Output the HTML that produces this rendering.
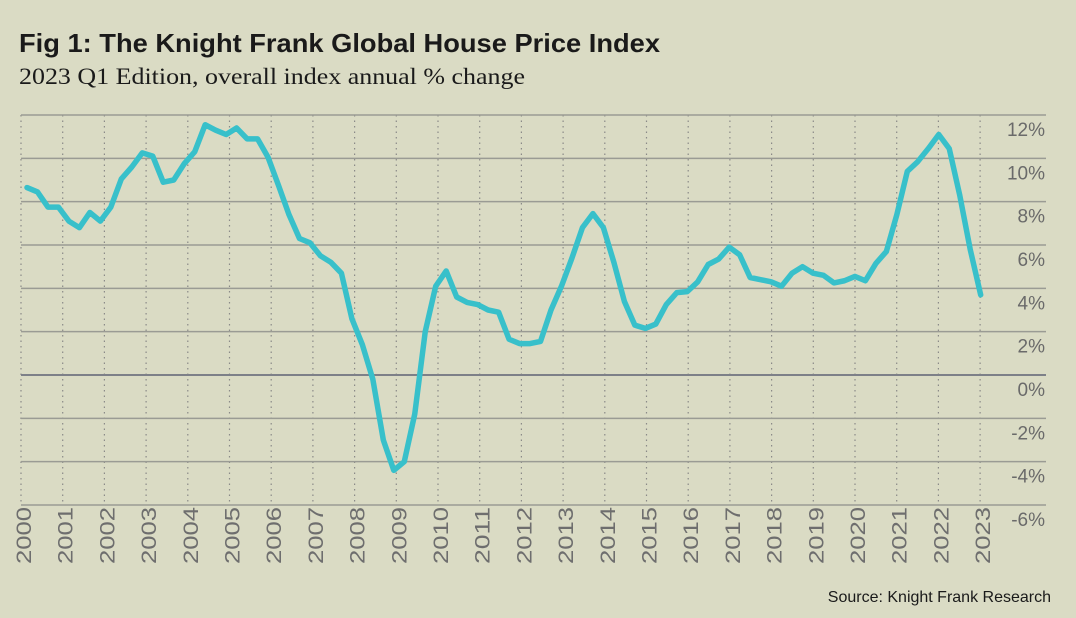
<!DOCTYPE html>
<html><head><meta charset="utf-8"><style>
body{margin:0;background:#dadbc4;}
svg{display:block;}
</style></head><body>
<svg id="chart" width="1076" height="618" viewBox="0 0 1076 618">
<rect width="1076" height="618" fill="#dadbc4"/>
<text x="19" y="52" font-family="Liberation Sans, sans-serif" font-weight="bold" font-size="26" textLength="641" lengthAdjust="spacingAndGlyphs" fill="#1a1a1a">Fig 1: The Knight Frank Global House Price Index</text>
<text x="19" y="84" font-family="Liberation Serif, serif" font-size="23" textLength="506" lengthAdjust="spacingAndGlyphs" fill="#1a1a1a">2023 Q1 Edition, overall index annual % change</text>
<text x="1051" y="602" text-anchor="end" font-family="Liberation Sans, sans-serif" font-size="16" fill="#1a1a1a">Source: Knight Frank Research</text>
<g id="grid"></g><g id="series"></g>
</svg>
<script>
const yTicks=[12,10,8,6,4,2,0,-2,-4,-6];
const years=["2000","2001","2002","2003","2004","2005","2006","2007","2008","2009","2010","2011","2012","2013","2014","2015","2016","2017","2018","2019","2020","2021","2022","2023"];
const values=[8.65,8.45,7.75,7.75,7.1,6.8,7.5,7.1,7.75,9.05,9.6,10.25,10.1,8.9,9.0,9.75,10.3,11.55,11.3,11.1,11.4,10.9,10.9,10.05,8.75,7.4,6.3,
6.1,5.5,5.2,4.7,2.6,1.4,-0.2,-3.0,-4.4,-4.0,-1.8,2.0,4.1,4.8,3.6,3.35,3.25,3.0,2.9,1.65,1.45,1.45,1.55,3.0,4.1,5.4,6.8,7.45,6.8,5.2,3.4,2.3,2.15,2.35,3.25,3.8,3.85,4.3,5.1,5.35,5.9,5.55,4.5,4.4,4.3,4.1,4.7,5.0,4.7,4.6,4.25,4.35,4.55,4.35,5.15,5.7,7.4,9.4,9.85,10.45,11.1,10.45,8.3,5.8,3.7];
const NS='http://www.w3.org/2000/svg';
const y=v=>375-(v*21.667);
const xYear=k=>21+k*41.7;
const xQ=i=>27+i*10.48;
const grid=document.getElementById('grid'),ser=document.getElementById('series');
function mk(tag,at,parent){const e=document.createElementNS(NS,tag);for(const k in at)e.setAttribute(k,at[k]);parent.appendChild(e);return e;}
years.forEach((yr,k)=>{
 const l=mk('line',{x1:xYear(k),x2:xYear(k),y1:115,y2:505,stroke:'#8a8a88','stroke-width':1.2,'stroke-dasharray':'1.5 4'},grid);
 
 
 const t=mk('text',{x:0,y:0,transform:`translate(${xYear(k)+10},${507}) rotate(-90)`,'text-anchor':'end','font-family':'Liberation Sans, sans-serif','font-size':21,textLength:57,lengthAdjust:'spacingAndGlyphs',fill:'#6e6e6e'},grid);
 t.textContent=yr;
 
 
});
yTicks.forEach(v=>{
 const l=mk('line',{x1:21,x2:1046,y1:y(v),y2:y(v),stroke:v===0?'#7d8088':'#9a9b94','stroke-width':v===0?2:1.5},grid);
 
 
 const t=mk('text',{x:1045,y:y(v)+21,'text-anchor':'end','font-family':'Liberation Sans, sans-serif','font-size':19,fill:'#6a6a6a'},grid);
 t.textContent=v+'%';
 
 
});
const p=mk('polyline',{points:values.map((v,i)=>xQ(i)+','+y(v)).join(' '),fill:'none',stroke:'#38c0ca','stroke-width':5.5,'stroke-linejoin':'round','stroke-linecap':'round'},ser);


</script>
</body></html>
